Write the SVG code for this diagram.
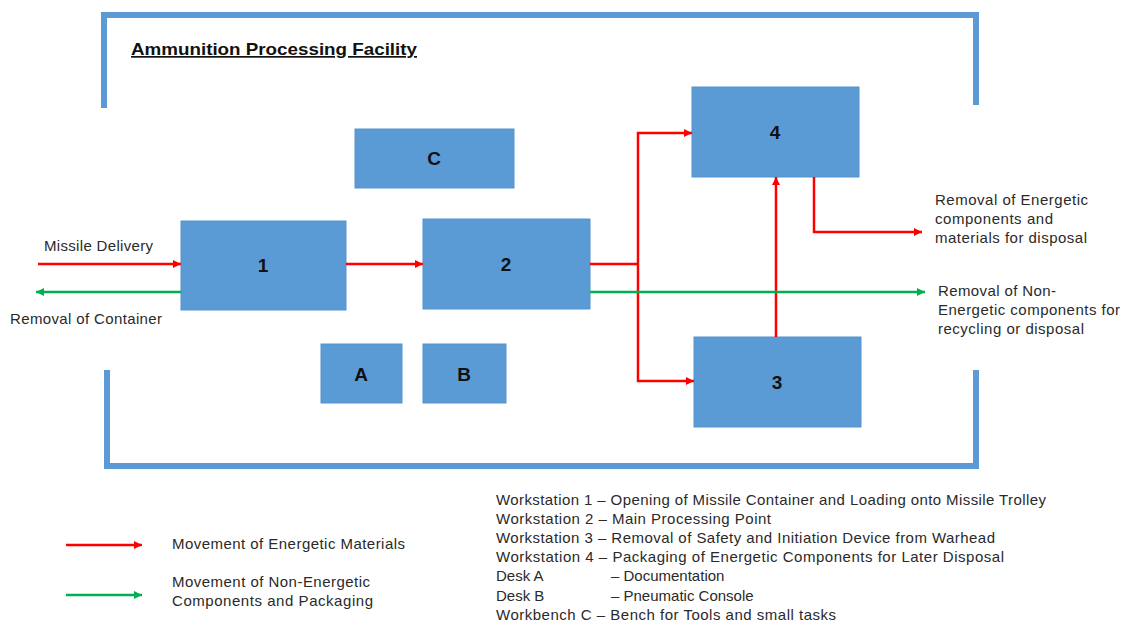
<svg xmlns="http://www.w3.org/2000/svg" width="1130" height="625" viewBox="0 0 1130 625">
<style>
.box{fill:#5B9BD5;stroke:#5593CC;stroke-width:1}
.lbl{font-family:"Liberation Sans",Arial,sans-serif;font-weight:bold;font-size:19px;fill:#111;text-anchor:middle}
.t{font-family:"Liberation Sans",Arial,sans-serif;font-size:15px;fill:#2a2a2a}
.frame{fill:none;stroke:#5B9BD5;stroke-width:6;stroke-linejoin:miter}
.red{fill:none;stroke:#FF0000;stroke-width:2.5}
.green{fill:none;stroke:#00B050;stroke-width:2.5}
</style>
<defs>
<marker id="ar" viewBox="0 0 10 10" refX="10" refY="5" markerWidth="9" markerHeight="8" markerUnits="userSpaceOnUse" orient="auto"><path d="M0,0 L10,5 L0,10 Z" fill="#FF0000"/></marker>
<marker id="ag" viewBox="0 0 10 10" refX="10" refY="5" markerWidth="9" markerHeight="8" markerUnits="userSpaceOnUse" orient="auto"><path d="M0,0 L10,5 L0,10 Z" fill="#00B050"/></marker>
</defs>
<rect width="1130" height="625" fill="#fff"/>
<g id="frame">
<path class="frame" d="M104,108 V15 H976 V105"/>
<path class="frame" d="M107,370 V466 H976 V370"/>
<text x="131" y="55" font-family="Liberation Sans,Arial,sans-serif" font-weight="bold" font-size="17" fill="#111" text-decoration="underline" textLength="286" lengthAdjust="spacingAndGlyphs">Ammunition Processing Facility</text>
</g>
<g id="node-C"><rect class="box" x="355" y="129" width="159" height="59"/><text class="lbl" x="434" y="165">C</text></g>
<g id="node-1"><rect class="box" x="181" y="221" width="165" height="89"/><text class="lbl" x="263" y="272">1</text></g>
<g id="node-2"><rect class="box" x="423" y="219" width="167" height="90"/><text class="lbl" x="506" y="271">2</text></g>
<g id="node-4"><rect class="box" x="692" y="87" width="167" height="90"/><text class="lbl" x="775" y="139">4</text></g>
<g id="node-3"><rect class="box" x="694" y="337" width="167" height="90"/><text class="lbl" x="777" y="389">3</text></g>
<g id="node-A"><rect class="box" x="321" y="344" width="81" height="59"/><text class="lbl" x="361" y="381">A</text></g>
<g id="node-B"><rect class="box" x="423" y="344" width="83" height="59"/><text class="lbl" x="464" y="381">B</text></g>
<g id="connectors">
<path class="red" d="M38,264 H181" marker-end="url(#ar)"/>
<path class="green" d="M181,292 H36" marker-end="url(#ag)"/>
<path class="red" d="M346,264 H423" marker-end="url(#ar)"/>
<path class="red" d="M590,264 H638"/>
<path class="red" d="M638,264 V133 H692" marker-end="url(#ar)"/>
<path class="red" d="M638,264 V381 H694" marker-end="url(#ar)"/>
<path class="red" d="M776,337 V177" marker-end="url(#ar)"/>
<path class="red" d="M814,177 V232 H922" marker-end="url(#ar)"/>
<path class="green" d="M590,292 H925" marker-end="url(#ag)"/>
<path class="red" d="M66,545 H142" marker-end="url(#ar)"/>
<path class="green" d="M66,595 H142" marker-end="url(#ag)"/>
</g>
<g id="labels">
<text class="t" x="44" y="251" textLength="109" lengthAdjust="spacing">Missile Delivery</text>
<text class="t" x="10" y="324" textLength="152" lengthAdjust="spacing">Removal of Container</text>
<text class="t" x="935" y="205" textLength="153" lengthAdjust="spacing">Removal of Energetic</text>
<text class="t" x="935" y="224" textLength="118" lengthAdjust="spacing">components and</text>
<text class="t" x="935" y="243" textLength="152" lengthAdjust="spacing">materials for disposal</text>
<text class="t" x="938" y="296" textLength="118" lengthAdjust="spacing">Removal of Non-</text>
<text class="t" x="938" y="315" textLength="182" lengthAdjust="spacing">Energetic components for</text>
<text class="t" x="938" y="334" textLength="146" lengthAdjust="spacing">recycling or disposal</text>
<text class="t" x="172" y="549" textLength="233" lengthAdjust="spacing">Movement of Energetic Materials</text>
<text class="t" x="172" y="587" textLength="198" lengthAdjust="spacing">Movement of Non-Energetic</text>
<text class="t" x="172" y="606" textLength="201" lengthAdjust="spacing">Components and Packaging</text>
<text class="t" x="496" y="505" textLength="550" lengthAdjust="spacing">Workstation 1 – Opening of Missile Container and Loading onto Missile Trolley</text>
<text class="t" x="496" y="524" textLength="275" lengthAdjust="spacing">Workstation 2 – Main Processing Point</text>
<text class="t" x="496" y="543" textLength="499" lengthAdjust="spacing">Workstation 3 – Removal of Safety and Initiation Device from Warhead</text>
<text class="t" x="496" y="562" textLength="508" lengthAdjust="spacing">Workstation 4 – Packaging of Energetic Components for Later Disposal</text>
<text class="t" x="496" y="581">Desk A</text>
<text class="t" x="611" y="581">– Documentation</text>
<text class="t" x="496" y="601">Desk B</text>
<text class="t" x="611" y="601">– Pneumatic Console</text>
<text class="t" x="496" y="620" textLength="340" lengthAdjust="spacing">Workbench C – Bench for Tools and small tasks</text>
</g>
</svg>
